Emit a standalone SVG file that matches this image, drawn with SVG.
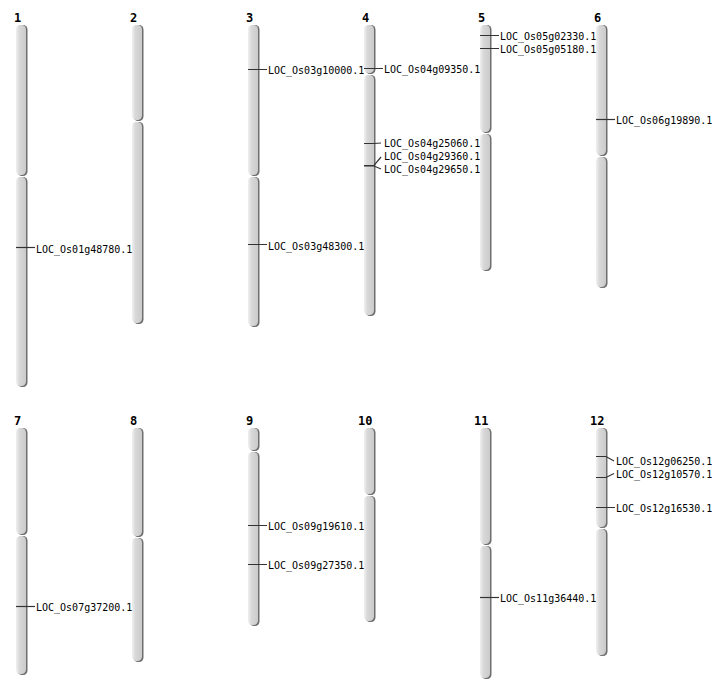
<svg xmlns="http://www.w3.org/2000/svg" width="712" height="700" viewBox="0 0 712 700">
<defs>
<linearGradient id="g" x1="0" y1="0" x2="1" y2="0">
<stop offset="0" stop-color="#f0f0f0"/>
<stop offset="0.35" stop-color="#d8d8d8"/>
<stop offset="1" stop-color="#cbcbcb"/>
</linearGradient>
</defs>
<style>
.seg{fill:url(#g);}
.sh{fill:#6e6e6e;}
.num{font-family:"DejaVu Sans Mono","Liberation Mono",monospace;font-size:12px;font-weight:bold;fill:#000;}
.lbl{font-family:"DejaVu Sans Mono","Liberation Mono",monospace;font-size:10px;fill:#000;}
.mk{stroke:#333;stroke-width:1.2;fill:none;}
</style>
<rect width="712" height="700" fill="#fff"/>
<g id="chr1"><text class="num" x="14" y="22">1</text>
<rect class="sh" x="17.5" y="25" width="10" height="151" rx="4.5"/><rect class="seg" x="16" y="25" width="10" height="150" rx="4.5"/>
<rect class="sh" x="17.5" y="177" width="10" height="210" rx="4.5"/><rect class="seg" x="16" y="177" width="10" height="209" rx="4.5"/></g>
<g id="chr2"><text class="num" x="130" y="22">2</text>
<rect class="sh" x="133.5" y="25" width="10" height="96" rx="4.5"/><rect class="seg" x="132" y="25" width="10" height="95" rx="4.5"/>
<rect class="sh" x="133.5" y="122" width="10" height="202" rx="4.5"/><rect class="seg" x="132" y="122" width="10" height="201" rx="4.5"/></g>
<g id="chr3"><text class="num" x="246" y="22">3</text>
<rect class="sh" x="249.5" y="25" width="10" height="151" rx="4.5"/><rect class="seg" x="248" y="25" width="10" height="150" rx="4.5"/>
<rect class="sh" x="249.5" y="177" width="10" height="150" rx="4.5"/><rect class="seg" x="248" y="177" width="10" height="149" rx="4.5"/></g>
<g id="chr4"><text class="num" x="362" y="22">4</text>
<rect class="sh" x="365.5" y="25" width="10" height="49" rx="4.5"/><rect class="seg" x="364" y="25" width="10" height="48" rx="4.5"/>
<rect class="sh" x="365.5" y="75" width="10" height="241" rx="4.5"/><rect class="seg" x="364" y="75" width="10" height="240" rx="4.5"/></g>
<g id="chr5"><text class="num" x="478" y="22">5</text>
<rect class="sh" x="481.5" y="25" width="10" height="108" rx="4.5"/><rect class="seg" x="480" y="25" width="10" height="107" rx="4.5"/>
<rect class="sh" x="481.5" y="134" width="10" height="137" rx="4.5"/><rect class="seg" x="480" y="134" width="10" height="136" rx="4.5"/></g>
<g id="chr6"><text class="num" x="594" y="22">6</text>
<rect class="sh" x="597.5" y="25" width="10" height="131" rx="4.5"/><rect class="seg" x="596" y="25" width="10" height="130" rx="4.5"/>
<rect class="sh" x="597.5" y="157" width="10" height="131" rx="4.5"/><rect class="seg" x="596" y="157" width="10" height="130" rx="4.5"/></g>
<g id="chr7"><text class="num" x="14" y="425">7</text>
<rect class="sh" x="17.5" y="428" width="10" height="107" rx="4.5"/><rect class="seg" x="16" y="428" width="10" height="106" rx="4.5"/>
<rect class="sh" x="17.5" y="536" width="10" height="139" rx="4.5"/><rect class="seg" x="16" y="536" width="10" height="138" rx="4.5"/></g>
<g id="chr8"><text class="num" x="130" y="425">8</text>
<rect class="sh" x="133.5" y="428" width="10" height="109" rx="4.5"/><rect class="seg" x="132" y="428" width="10" height="108" rx="4.5"/>
<rect class="sh" x="133.5" y="538" width="10" height="124" rx="4.5"/><rect class="seg" x="132" y="538" width="10" height="123" rx="4.5"/></g>
<g id="chr9"><text class="num" x="246" y="425">9</text>
<rect class="sh" x="249.5" y="428" width="10" height="23" rx="4.5"/><rect class="seg" x="248" y="428" width="10" height="22" rx="4.5"/>
<rect class="sh" x="249.5" y="452" width="10" height="174" rx="4.5"/><rect class="seg" x="248" y="452" width="10" height="173" rx="4.5"/></g>
<g id="chr10"><text class="num" x="358" y="425">10</text>
<rect class="sh" x="365.5" y="428" width="10" height="67" rx="4.5"/><rect class="seg" x="364" y="428" width="10" height="66" rx="4.5"/>
<rect class="sh" x="365.5" y="496" width="10" height="126" rx="4.5"/><rect class="seg" x="364" y="496" width="10" height="125" rx="4.5"/></g>
<g id="chr11"><text class="num" x="474" y="425">11</text>
<rect class="sh" x="481.5" y="428" width="10" height="117" rx="4.5"/><rect class="seg" x="480" y="428" width="10" height="116" rx="4.5"/>
<rect class="sh" x="481.5" y="546" width="10" height="133" rx="4.5"/><rect class="seg" x="480" y="546" width="10" height="132" rx="4.5"/></g>
<g id="chr12"><text class="num" x="590" y="425">12</text>
<rect class="sh" x="597.5" y="428" width="10" height="100" rx="4.5"/><rect class="seg" x="596" y="428" width="10" height="99" rx="4.5"/>
<rect class="sh" x="597.5" y="529" width="10" height="127" rx="4.5"/><rect class="seg" x="596" y="529" width="10" height="126" rx="4.5"/></g>
<g id="connectors">
<path class="mk" d="M16 247.5H35"/>
<path class="mk" d="M248 69.5H267 M248 244.5H267"/>
<path class="mk" d="M364 68.5H383 M364 143.5H374L381 143 M364 165.5H374L381 157 M364 166H374L381 169"/>
<path class="mk" d="M480 35.5H499 M480 48.5H499"/>
<path class="mk" d="M596 119.5H615"/>
<path class="mk" d="M16 606.5H35"/>
<path class="mk" d="M248 525.5H267 M248 564.5H267"/>
<path class="mk" d="M480 597.5H499"/>
<path class="mk" d="M596 456.5H606L614 461 M596 477.5H606L614 473.5 M596 507.5H615"/>
</g>
<g id="labels">
<text class="lbl" x="36" y="253">LOC_Os01g48780.1</text>
<text class="lbl" x="268" y="74">LOC_Os03g10000.1</text>
<text class="lbl" x="268" y="250">LOC_Os03g48300.1</text>
<text class="lbl" x="384" y="73">LOC_Os04g09350.1</text>
<text class="lbl" x="384" y="147">LOC_Os04g25060.1</text>
<text class="lbl" x="384" y="160">LOC_Os04g29360.1</text>
<text class="lbl" x="384" y="173">LOC_Os04g29650.1</text>
<text class="lbl" x="500" y="40">LOC_Os05g02330.1</text>
<text class="lbl" x="500" y="53">LOC_Os05g05180.1</text>
<text class="lbl" x="616" y="124">LOC_Os06g19890.1</text>
<text class="lbl" x="36" y="611">LOC_Os07g37200.1</text>
<text class="lbl" x="268" y="530">LOC_Os09g19610.1</text>
<text class="lbl" x="268" y="569">LOC_Os09g27350.1</text>
<text class="lbl" x="500" y="602">LOC_Os11g36440.1</text>
<text class="lbl" x="616" y="465">LOC_Os12g06250.1</text>
<text class="lbl" x="616" y="478">LOC_Os12g10570.1</text>
<text class="lbl" x="616" y="512">LOC_Os12g16530.1</text>
</g>
</svg>
